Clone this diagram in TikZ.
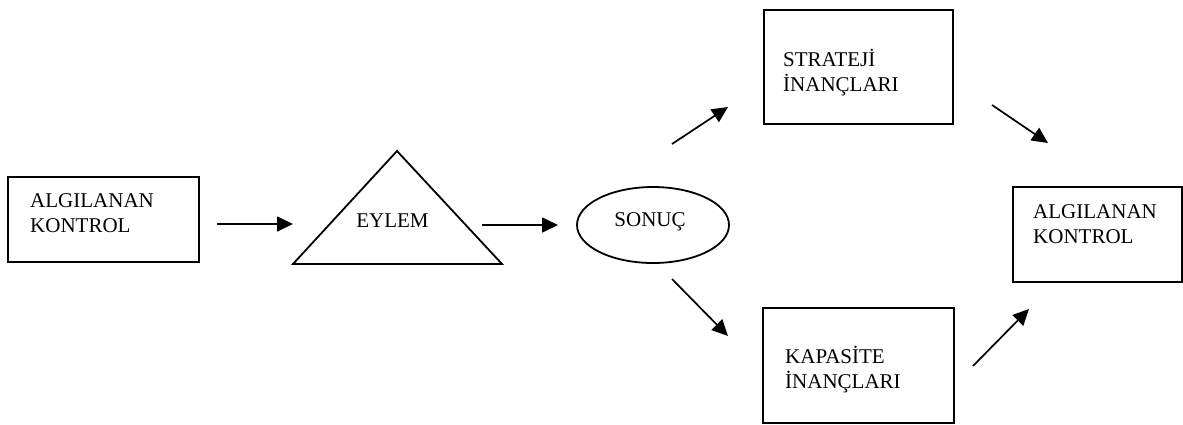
\documentclass[tikz,border=0pt]{standalone}
\usepackage{fontspec}
\setmainfont{Liberation Serif}
\usetikzlibrary{arrows.meta, shapes.geometric, calc}

\begin{document}
\begin{tikzpicture}[x=1pt, y=-1pt]
	\tikzstyle{block}=[draw, rectangle, line width=1.8pt, inner sep=0pt]
	\tikzstyle{lbl}=[font=\fontsize{21}{25}\selectfont, align=left, inner sep=0pt]
	\tikzstyle{conn}=[line width=1.7pt, -{Triangle[length=16pt, width=15pt]}]
	\def\lw{1.8pt};

	\useasboundingbox (0,0) rectangle (1183,424);

	% left: algilanan kontrol -> eylem -> sonuc
	\begin{scope}
		\node [block, minimum width=191pt, minimum height=85pt] (alg1) at (103.5,219.5) {};
		\node [lbl, anchor=base west] (alg1-t) at (30,232) {ALGILANAN\\KONTROL};

		\coordinate (tri-l) at (293,264);
		\coordinate (tri-t) at (397,151);
		\coordinate (tri-r) at (502,264);
		\draw [line width=\lw] (tri-l) -- (tri-t) -- (tri-r) -- cycle;
		\node [lbl] (eylem) at (392.5,221) {EYLEM};

		\node [draw, ellipse, line width=\lw, inner sep=0pt, minimum width=152pt, minimum height=76pt] (sonuc) at (653,225) {};
		\node [lbl] (sonuc-t) at (650,221.5) {SONUÇ};
	\end{scope}

	% right: inanclar -> algilanan kontrol
	\begin{scope}
		\node [block, minimum width=189pt, minimum height=114pt] (strat) at (858.5,67) {};
		\node [lbl, anchor=base west] (strat-t) at (783,91) {STRATEJİ\\İNANÇLARI};

		\node [block, minimum width=191pt, minimum height=115pt] (kap) at (858.5,365.5) {};
		\node [lbl, anchor=base west] (kap-t) at (785,388) {KAPASİTE\\İNANÇLARI};

		\node [block, minimum width=169pt, minimum height=95pt] (alg2) at (1097.5,234.5) {};
		\node [lbl, anchor=base west] (alg2-t) at (1033,243) {ALGILANAN\\KONTROL};
	\end{scope}

	% arrows
	\begin{scope}
		\coordinate (a1s) at (217,224);  \coordinate (a1e) at (293,224);
		\coordinate (a2s) at (482,225);  \coordinate (a2e) at (558,225);
		\coordinate (a3s) at (672,144);  \coordinate (a3e) at (728,107);
		\coordinate (a4s) at (672,279);  \coordinate (a4e) at (728,336);
		\coordinate (a5s) at (992,105);  \coordinate (a5e) at (1048,143);
		\coordinate (a6s) at (973,366);  \coordinate (a6e) at (1029,309);

		\draw [conn] (a1s) -- (a1e);
		\draw [conn] (a2s) -- (a2e);
		\draw [conn] (a3s) -- (a3e);
		\draw [conn] (a4s) -- (a4e);
		\draw [conn] (a5s) -- (a5e);
		\draw [conn] (a6s) -- (a6e);
	\end{scope}
\end{tikzpicture}
\end{document}
